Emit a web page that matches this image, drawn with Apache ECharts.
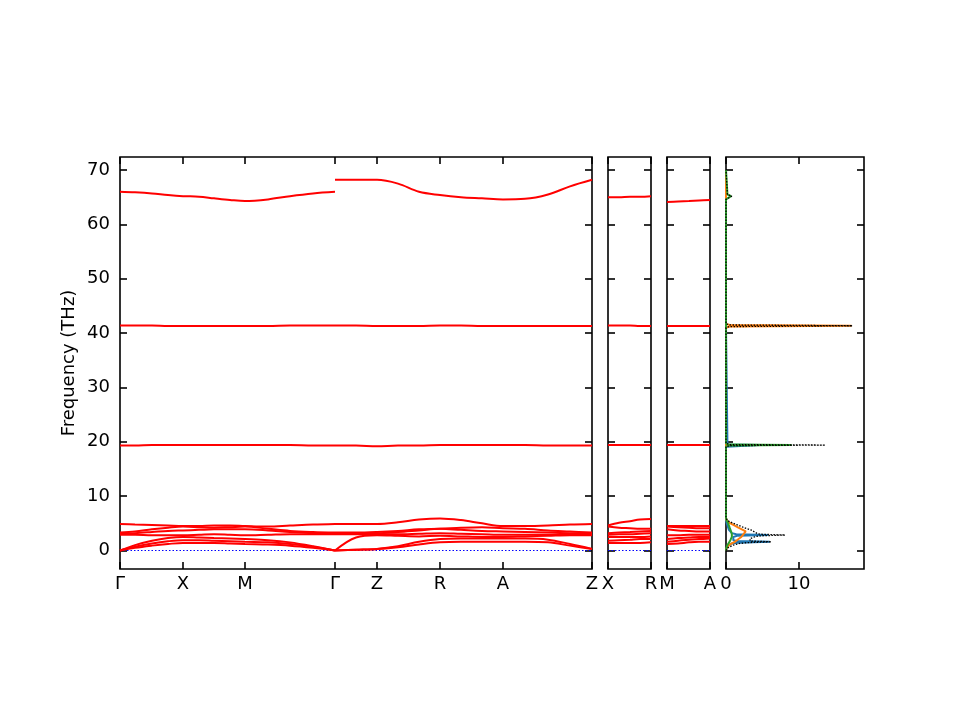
<!DOCTYPE html>
<html><head><meta charset="utf-8">
<script src="https://cdn.jsdelivr.net/npm/echarts@6/dist/echarts.min.js"></script>
<style>html,body{margin:0;padding:0;background:#fff}#c{width:960px;height:720px}</style>
</head><body><div id="c"></div>
<script>
// ---- high-symmetry points (path distance, arbitrary units) ----
const kPos = [0, 63, 125, 215, 257, 320, 383, 472];
const kLab = ['Γ', 'X', 'M', 'Γ', 'Z', 'R', 'A', 'Z'];
const panel2Lab = ['X', 'R'];
const panel3Lab = ['M', 'A'];
const yTicks = [0, 10, 20, 30, 40, 50, 60, 70];
const dosTicks = [0, 10];

// ---- sample positions along path ----
const pathX1 = [0, 15, 32, 48, 63, 79, 94, 110, 125, 148, 170, 193, 215];   // Γ-X-M-Γ
const pathX2 = [215, 236, 257, 278, 299, 320, 341, 362, 383, 405, 428, 450, 472]; // Γ-Z-R-A-Z
const panelX = [0, 11, 22, 32, 43];

// ---- bands, part 1 (Γ-X-M-Γ) ----
const bandsPart1 = [
  [0, 0.5, 0.9, 1.2, 1.4, 1.4, 1.4, 1.3, 1.2, 1.1, 0.9, 0.5, 0],
  [0, 0.7, 1.3, 1.7, 1.9, 1.9, 1.8, 1.7, 1.6, 1.5, 1.2, 0.7, 0],
  [0, 1.0, 1.8, 2.3, 2.5, 2.4, 2.3, 2.2, 2.1, 1.9, 1.5, 0.8, 0],
  [2.9, 2.9, 2.8, 2.8, 2.8, 2.9, 3.0, 2.9, 2.8, 2.9, 3.0, 3.0, 3.0],
  [3.1, 3.2, 3.4, 3.6, 3.7, 3.8, 3.9, 3.9, 3.9, 3.7, 3.4, 3.2, 3.1],
  [3.3, 3.5, 3.9, 4.2, 4.4, 4.3, 4.2, 4.3, 4.4, 4.0, 3.6, 3.4, 3.3],
  [4.9, 4.8, 4.7, 4.6, 4.5, 4.5, 4.6, 4.6, 4.5, 4.4, 4.6, 4.8, 4.9],
  [19.3, 19.3, 19.4, 19.4, 19.4, 19.4, 19.4, 19.4, 19.4, 19.4, 19.4, 19.3, 19.3],
  [41.4, 41.4, 41.4, 41.3, 41.3, 41.3, 41.3, 41.3, 41.3, 41.3, 41.4, 41.4, 41.4],
  [66.0, 65.9, 65.7, 65.4, 65.2, 65.1, 64.8, 64.5, 64.3, 64.6, 65.2, 65.7, 66.0]
];
// ---- bands, part 2 (Γ-Z-R-A-Z) ----
const bandsPart2 = [
  [0, 0.15, 0.3, 0.6, 1.1, 1.5, 1.6, 1.6, 1.6, 1.6, 1.5, 0.9, 0.3],
  [0, 0.15, 0.3, 0.8, 1.6, 2.1, 2.2, 2.2, 2.2, 2.2, 2.0, 1.2, 0.3],
  [0, 2.4, 2.8, 2.7, 2.6, 2.7, 2.6, 2.5, 2.5, 2.6, 2.7, 2.8, 2.8],
  [3.0, 3.0, 3.0, 3.0, 3.1, 3.2, 3.1, 3.0, 2.9, 2.9, 2.9, 3.0, 3.0],
  [3.2, 3.2, 3.2, 3.4, 3.7, 4.0, 3.8, 3.6, 3.5, 3.4, 3.3, 3.2, 3.2],
  [3.3, 3.3, 3.4, 3.6, 3.9, 4.0, 4.2, 4.3, 4.1, 4.0, 3.7, 3.5, 3.3],
  [4.9, 4.9, 4.9, 5.2, 5.7, 5.9, 5.6, 5.0, 4.5, 4.5, 4.6, 4.8, 4.9],
  [19.3, 19.3, 19.2, 19.3, 19.3, 19.4, 19.4, 19.4, 19.4, 19.4, 19.3, 19.3, 19.3],
  [41.4, 41.4, 41.3, 41.3, 41.3, 41.4, 41.4, 41.3, 41.3, 41.3, 41.3, 41.3, 41.3],
  [68.2, 68.2, 68.2, 67.5, 66.0, 65.4, 65.0, 64.8, 64.6, 64.7, 65.5, 67.0, 68.2]
];
// ---- bands, X-R panel ----
const bandsXR = [
  [1.4, 1.4, 1.4, 1.4, 1.5],
  [1.8, 1.9, 2.0, 2.1, 2.1],
  [2.5, 2.5, 2.5, 2.5, 2.6],
  [2.9, 3.0, 3.0, 3.1, 3.2],
  [3.2, 3.3, 3.4, 3.5, 3.6],
  [4.4, 4.2, 4.1, 4.0, 4.0],
  [4.6, 5.1, 5.4, 5.7, 5.8],
  [19.4, 19.4, 19.4, 19.4, 19.4],
  [41.4, 41.4, 41.4, 41.3, 41.3],
  [65.0, 65.0, 65.1, 65.1, 65.2]
];
// ---- bands, M-A panel ----
const bandsMA = [
  [1.2, 1.3, 1.5, 1.6, 1.6],
  [1.6, 1.8, 2.0, 2.1, 2.2],
  [2.1, 2.3, 2.4, 2.5, 2.5],
  [2.8, 2.8, 2.9, 2.9, 2.9],
  [3.9, 3.7, 3.6, 3.5, 3.5],
  [4.4, 4.3, 4.2, 4.1, 4.1],
  [4.5, 4.5, 4.5, 4.5, 4.5],
  [19.4, 19.4, 19.4, 19.4, 19.4],
  [41.3, 41.3, 41.3, 41.3, 41.3],
  [64.1, 64.2, 64.3, 64.4, 64.5]
];
const zeroLine = [0, 0];

// ---- density of states ----
const dosFreq   = [0, 0.5, 1.0, 1.3, 1.45, 1.6, 1.75, 1.9, 2.2, 2.5, 2.7, 2.85, 3.0, 3.2, 3.5, 3.8, 4.2, 4.6, 5.0, 5.5, 6.0,
                   19.1, 19.3, 19.4, 19.5, 19.7, 41.0, 41.2, 41.35, 41.5, 41.7, 64.6, 64.9, 65.2, 65.5, 65.8, 70];
const dosBlue   = [0, 0.1, 0.4, 0.8, 1.5, 6.0, 1.5, 1.0, 0.8, 1.0, 1.5, 5.8, 1.4, 0.8, 0.6, 0.4, 0.3, 0.2, 0.1, 0, 0,
                   0, 0.2, 4.6, 0.2, 0, 0, 0, 0, 0, 0, 0, 0, 0, 0, 0, 0];
const dosOrange = [0, 0.1, 0.4, 0.8, 1.0, 1.2, 1.3, 1.5, 1.8, 2.1, 2.2, 2.3, 2.4, 2.6, 2.7, 2.3, 1.7, 1.2, 0.6, 0.1, 0,
                   0, 0, 0, 0, 0, 0, 0.5, 17.2, 0.5, 0, 0, 0, 0, 0, 0, 0];
const dosGreen  = [0, 0.05, 0.2, 0.3, 0.4, 0.5, 0.55, 0.6, 0.7, 0.8, 0.8, 0.8, 0.8, 0.8, 0.7, 0.6, 0.5, 0.4, 0.3, 0.1, 0,
                   0, 0.3, 9.0, 0.3, 0, 0, 0, 0, 0, 0, 0, 0.2, 0.7, 0.2, 0, 0];
const dosTotal  = [0, 0.25, 1.0, 1.9, 2.9, 6.2, 3.3, 3.1, 3.3, 3.9, 4.5, 8.1, 4.6, 4.2, 4.0, 3.4, 2.5, 1.8, 1.0, 0.2, 0,
                   0, 0.5, 13.6, 0.5, 0, 0, 0.5, 17.3, 0.5, 0, 0, 0.2, 0.8, 0.2, 0, 0];

const FONT = 'DejaVu Sans';
const YMIN = -3.4, YMAX = 72.4;
const tickStyle = { color: '#000', width: 1.6 };
const noLine = { show: false, onZero: false };

const grids = [
  { left: 120, top: 157, width: 472, height: 412 },
  { left: 608, top: 157, width: 43, height: 412 },
  { left: 667, top: 157, width: 43, height: 412 },
  { left: 726, top: 157, width: 138, height: 412 }
].map(g => Object.assign({ show: true, borderColor: '#000', borderWidth: 1.6, backgroundColor: 'transparent' }, g));

const xAxes = [], yAxes = [];
function addX(gi, min, max, ticks, labels) {
  const fmt = v => {
    let best = 0, bd = Infinity;
    ticks.forEach((t, i) => { const d = Math.abs(t - v); if (d < bd) { bd = d; best = i; } });
    return labels[best];
  };
  xAxes.push({
    type: 'value', gridIndex: gi, min, max, position: 'bottom',
    axisLine: noLine, splitLine: { show: false },
    axisTick: { show: true, inside: true, length: 7, customValues: ticks, lineStyle: tickStyle },
    axisLabel: { show: true, customValues: ticks, formatter: fmt, color: '#000', fontFamily: FONT, fontSize: 18, margin: 6, showMinLabel: true, showMaxLabel: true }
  });
  xAxes.push({
    type: 'value', gridIndex: gi, min, max, position: 'top',
    axisLine: noLine, splitLine: { show: false },
    axisTick: { show: true, inside: true, length: 7, customValues: ticks, lineStyle: tickStyle },
    axisLabel: { show: false }
  });
}
function addY(gi, showLabels) {
  const base = {
    type: 'value', gridIndex: gi, min: YMIN, max: YMAX,
    axisLine: noLine, splitLine: { show: false },
    axisTick: { show: true, inside: true, length: 7, customValues: yTicks, lineStyle: tickStyle }
  };
  const left = Object.assign({}, base, {
    position: 'left',
    axisLabel: showLabels ? { show: true, customValues: yTicks, color: '#000', fontFamily: FONT, fontSize: 18, margin: 10 } : { show: false }
  });
  if (showLabels) {
    Object.assign(left, {
      name: 'Frequency (THz)', nameLocation: 'middle', nameGap: 42,
      nameTextStyle: { color: '#000', fontFamily: FONT, fontSize: 18 }
    });
  }
  yAxes.push(left);
  yAxes.push(Object.assign({}, base, { position: 'right', axisLabel: { show: false } }));
}
addX(0, 0, 472, kPos, kLab); addY(0, true);
addX(1, 0, 43, [0, 43], panel2Lab); addY(1, false);
addX(2, 0, 43, [0, 43], panel3Lab); addY(2, false);
addX(3, 0, 18.9, dosTicks, ['0', '10']); addY(3, false);

const series = [];
function zero(gi, xmax) {
  series.push({
    type: 'line', xAxisIndex: 2 * gi, yAxisIndex: 2 * gi, symbol: 'none', silent: true,
    data: [[0, zeroLine[0]], [xmax, zeroLine[1]]],
    lineStyle: { color: '#0000ff', width: 1.2, type: [1.5, 2] }, z: 1
  });
}
function bands(gi, xs, arr) {
  arr.forEach(b => series.push({
    type: 'line', xAxisIndex: 2 * gi, yAxisIndex: 2 * gi, symbol: 'none', silent: true,
    smooth: 0.35, data: xs.map((x, i) => [x, b[i]]),
    lineStyle: { color: '#ff0000', width: 2 }, z: 2
  }));
}
zero(0, 472); zero(1, 43); zero(2, 43);
bands(0, pathX1, bandsPart1);
bands(0, pathX2, bandsPart2);
bands(1, panelX, bandsXR);
bands(2, panelX, bandsMA);

function dos(vals, color, width, type) {
  series.push({
    type: 'line', xAxisIndex: 6, yAxisIndex: 6, symbol: 'none', silent: true,
    data: dosFreq.map((f, i) => [vals[i], f]),
    lineStyle: { color, width, type }, z: 3
  });
}
dos(dosBlue, '#1f77b4', 2, 'solid');
dos(dosOrange, '#ff7f0e', 2, 'solid');
dos(dosGreen, '#2ca02c', 2, 'solid');
dos(dosTotal, '#000000', 1.3, [1.5, 1.5]);

const chart = echarts.init(document.getElementById('c'), null, { renderer: 'canvas' });
chart.setOption({
  animation: false,
  backgroundColor: '#fff',
  grid: grids, xAxis: xAxes, yAxis: yAxes, series
});
</script></body></html>
